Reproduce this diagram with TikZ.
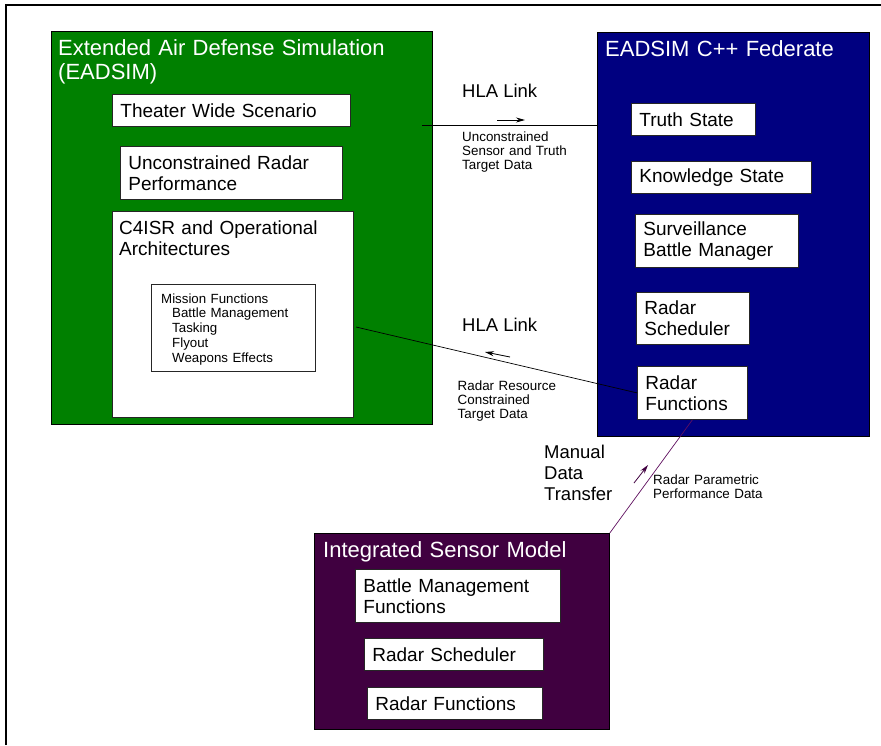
\documentclass[tikz,border=0pt]{standalone}
\usepackage{fontspec}
\setmainfont{Liberation Sans}
\usetikzlibrary{arrows.meta}
\definecolor{eadgreen}{RGB}{0,128,0}
\definecolor{fednavy}{RGB}{0,0,128}
\definecolor{ismpurple}{RGB}{64,0,64}
\definecolor{linkpurple}{RGB}{96,16,96}
\newcommand\fsz[2]{\fontsize{#1}{#2}\selectfont}
\begin{document}
\begin{tikzpicture}[x=1pt,y=-1pt,
  bigbox/.style={draw=black, line width=0.8pt, anchor=north west, inner sep=0pt},
  wbox/.style={draw=black!85, fill=white, line width=0.8pt, anchor=north west, align=left, inner xsep=8pt, inner ysep=0pt, font=\fsz{19}{21}},
  titletext/.style={anchor=base west, inner sep=0pt, text=white, align=left, font=\fsz{22}{24}},
  lbl/.style={anchor=base west, inner sep=0pt, align=left, font=\fsz{18.5}{21}},
  smalltext/.style={anchor=base west, inner sep=0pt, align=left, font=\fsz{13.4}{14}},
  link/.style={line width=0.7pt},
  dirarrow/.style={-{Stealth[length=9pt,width=5pt]}, line width=0.8pt}
]
\useasboundingbox (0,0) rectangle (881,745);
\fill[white] (0,0) rectangle (881,745);
% frame
\draw[line width=2pt] (6,745) -- (6,4.5) -- (881,4.5);

% EADSIM
\node[bigbox, fill=eadgreen, minimum width=381pt, minimum height=393pt] (eadsim) at (51,31) {};
\node[titletext, text width=370pt] (eadsimT) at (58,55) {Extended Air Defense Simulation\\(EADSIM)};
\node[wbox, text width=222pt, minimum height=32pt] (tws) at (112,94) {Theater Wide Scenario};
\node[wbox, text width=206pt, minimum height=53pt] (urp) at (120,146) {Unconstrained Radar\\Performance};
\node[wbox, minimum width=241pt, minimum height=206pt] (c4isr) at (112,211) {};
\node[anchor=base west, inner sep=0pt, font=\fsz{19}{21}, text width=230pt, align=left] (c4isrT) at (119,234) {C4ISR and Operational\\Architectures};
\node[bigbox, draw=black!85, fill=white, minimum width=164pt, minimum height=87pt] (mf) at (151,284) {};
\node[anchor=base west, inner sep=0pt, align=left, font=\fsz{13.3}{14.75}, text width=150pt] (mfT) at (161,303) {Mission Functions\\\hspace*{11pt}Battle Management\\\hspace*{11pt}Tasking\\\hspace*{11pt}Flyout\\\hspace*{11pt}Weapons Effects};

% Federate
\node[bigbox, fill=fednavy, minimum width=272pt, minimum height=404pt] (fed) at (597,32) {};
\node[titletext, text width=260pt] (fedT) at (605,56) {EADSIM C++ Federate};
\node[wbox, text width=108pt, minimum height=32pt] (truth) at (631,103) {Truth State};
\node[wbox, text width=164pt, minimum height=32pt] (know) at (631,161) {Knowledge State};
\node[wbox, text width=147pt, minimum height=53pt] (sbm) at (635,214) {Surveillance\\Battle Manager};
\node[wbox, text width=97pt, minimum height=52pt] (rs) at (636,292) {Radar\\Scheduler};
\node[wbox, text width=94pt, minimum height=53pt] (rf) at (637,366) {Radar\\Functions};

% ISM
\node[bigbox, fill=ismpurple, minimum width=295pt, minimum height=196pt] (ism) at (314,533) {};
\node[titletext, text width=280pt] (ismT) at (323,557) {Integrated Sensor Model};
\node[wbox, text width=189pt, minimum height=53pt] (bmf) at (355,569) {Battle Management\\Functions};
\node[wbox, text width=163pt, minimum height=32pt] (rs2) at (364,638) {Radar Scheduler};
\node[wbox, text width=159pt, minimum height=32pt] (rf2) at (367,687) {Radar Functions};

% labels
\node[lbl] (hla1) at (462,97) {HLA Link};
\node[smalltext, text width=150pt] (hla1d) at (462,141) {Unconstrained\\Sensor and Truth\\Target Data};
\node[lbl] (hla2) at (462,331) {HLA Link};
\node[smalltext, text width=150pt] (hla2d) at (457.5,390.5) {Radar Resource\\Constrained\\Target Data};
\node[lbl, text width=100pt] (mdt) at (544,458) {Manual\\Data\\Transfer};
\node[smalltext, text width=200pt] (rpp) at (653,484) {Radar Parametric\\Performance Data};

% connectors
\coordinate (l1a) at (422,125);
\draw[link] (l1a) -- (l1a -| fed.west);
\coordinate (a1s) at (497,120);
\coordinate (a1e) at (525,120);
\draw[dirarrow] (a1s) -- (a1e);

\coordinate (l2a) at (356,327);
\draw[link] (l2a) -- (rf.west);
\coordinate (a2s) at (510,357);
\coordinate (a2e) at (485,352);
\draw[dirarrow] (a2s) -- (a2e);

\draw[link, linkpurple] (ism.north east) -- (rf.south);
\coordinate (a3s) at (634,483);
\coordinate (a3e) at (648,465);
\draw[dirarrow, ismpurple] (a3s) -- (a3e);
\end{tikzpicture}
\end{document}
